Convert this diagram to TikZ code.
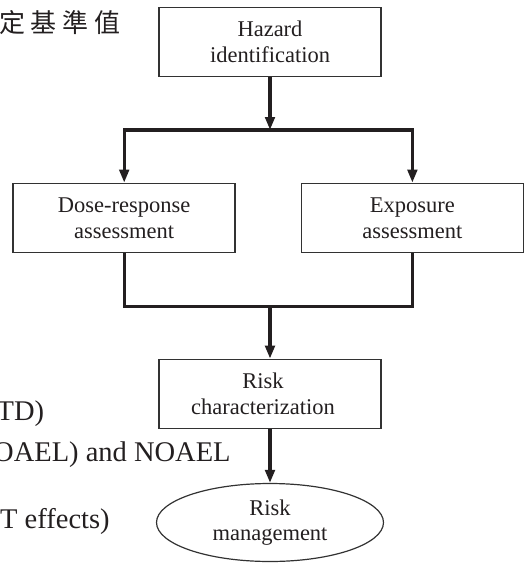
\documentclass[tikz,border=0pt]{standalone}
\usepackage{fontspec}
\setmainfont{Liberation Serif}
\newfontfamily\cjkfont{Noto Sans CJK TC}
\usetikzlibrary{arrows.meta, shapes.geometric}
\definecolor{boxgray}{RGB}{50,50,50}
\definecolor{flowblack}{RGB}{35,31,32}

\begin{document}
\begin{tikzpicture}[x=1pt, y=-1pt,
    stagebox/.style={draw=boxgray, line width=1.7pt, minimum width=222pt, minimum height=69pt,
      inner sep=0pt, align=center, text=flowblack, font=\fontsize{22.5}{25.5}\selectfont},
    stageoval/.style={ellipse, draw=boxgray, line width=1.2pt, minimum width=227pt, minimum height=78pt,
      inner sep=0pt, align=center, text=flowblack, font=\fontsize{22.5}{25.5}\selectfont},
    flow/.style={draw=flowblack, line width=3.2pt, -{Triangle[length=13pt, width=9.5pt]}},
    joint/.style={draw=flowblack, line width=3.2pt},
    sidenote/.style={anchor=base west, inner sep=0pt, text=flowblack, font=\fontsize{28.5}{30}\selectfont}]

  \useasboundingbox (0,0) rectangle (528,563);

  % side text cut off at the left edge
  \node[sidenote, font=\cjkfont\fontsize{26}{28}\selectfont] (cjknote) at (-1,32.5)
    {定\hspace{5.7pt}基\hspace{5.7pt}準\hspace{5.7pt}值};
  \node[sidenote] (tdnote) at (-3.5,420) {TD)};
  \node[sidenote] (noaelnote) at (-7,461.7) {OAEL) and NOAEL};
  \node[sidenote] (effnote) at (0,528.3) {T effects)};

  % stages
  \node[stagebox] (haz) at (270,42) {Hazard\\identification};
  \node[stagebox] (dose) at (124.2,218) {Dose-response\\assessment};
  \node[stagebox] (exp) at (412.4,218) {Exposure\\assessment};
  \node[stagebox] (char) at (270,394) {Risk\hspace*{14pt}\\characterization\hspace*{14pt}};
  \node[stageoval] (mgmt) at (270,522.5) {Risk\\management};

  \coordinate (split) at (270,130);
  \coordinate (merge) at (270,306.5);

  % connectors
  \draw[flow] (haz.south) -- (split);
  \draw[flow] (split) -| (dose.north);
  \draw[flow] (split) -| (exp.north);
  \draw[joint] (dose.south) |- (merge);
  \draw[joint] (exp.south) |- (merge);
  \draw[flow] (merge) -- (char.north);
  \draw[flow] (char.south) -- (mgmt.north);
\end{tikzpicture}
\end{document}
